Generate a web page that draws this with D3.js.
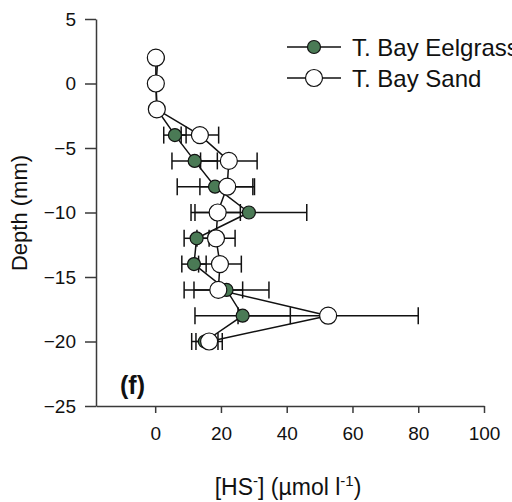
<!DOCTYPE html>
<html><head><meta charset="utf-8">
<script src="https://cdn.jsdelivr.net/npm/d3@7"></script>
<style>body{margin:0;background:#fff}svg{display:block;font-family:Arial,"Liberation Sans",sans-serif}</style>
</head><body>
<svg id="c" width="512" height="502"></svg>
<script>
const depths = [2, 0, -2, -4, -6, -8, -10, -12, -14, -16, -18, -20];
const eelgrass = [0.8, 0.3, 0.5, 6.0, 12.0, 18.2, 28.5, 12.6, 11.8, 21.7, 26.6, 15.1];
const eelgrassErr = [0, 0, 0, 3.4, 6.9, 11.5, 17.6, 3.8, 3.7, 12.9, 14.5, 4.0];
const sand = [0.2, 0.2, 0.5, 13.6, 22.4, 21.9, 19.0, 18.5, 19.7, 19.2, 52.6, 16.4];
const sandErr = [0, 0, 0, 5.7, 8.6, 8.3, 6.9, 5.8, 6.5, 7.4, 27.4, 4.0];
const xTicks = [0, 20, 40, 60, 80, 100];
const yTicks = [5, 0, -5, -10, -15, -20, -25];
const seriesNames = ["T. Bay Eelgrass", "T. Bay Sand"];

const svg = d3.select("#c");
const x = d3.scaleLinear().domain([-18, 100]).range([96, 484]);
const y = d3.scaleLinear().domain([-25, 5]).range([406, 19]);
const axisColor = "#3a3a3a";

// axes
const xa = svg.append("g").attr("transform", "translate(0,406)")
  .call(d3.axisBottom(x).tickValues(xTicks).tickSize(7).tickSizeOuter(0).tickPadding(14));
const ya = svg.append("g").attr("transform", "translate(96,0)")
  .call(d3.axisLeft(y).tickValues(yTicks).tickSize(11).tickSizeOuter(0).tickPadding(9));
[xa, ya].forEach(a => {
  a.select(".domain").attr("stroke", axisColor).attr("stroke-width", 1.5);
  a.selectAll(".tick line").attr("stroke", axisColor).attr("stroke-width", 1.5);
  a.selectAll(".tick text").attr("fill", "#111").style("font-size", "19px").style("font-family", "Arial, 'Liberation Sans', sans-serif");
});

const series = [
  {vals: eelgrass, err: eelgrassErr, fill: "#4a7a55", r: 6.5},
  {vals: sand, err: sandErr, fill: "#ffffff", r: 8.5}
];
const cap = 8.5;
const g = svg.append("g");
series.forEach(s => {
  const eg = g.append("g");
  depths.forEach((d, i) => {
    if (s.err[i] <= 0) return;
    const x0 = x(s.vals[i] - s.err[i]), x1 = x(s.vals[i] + s.err[i]), yy = y(d);
    eg.append("line").attr("x1", x0).attr("x2", x1).attr("y1", yy).attr("y2", yy);
    eg.append("line").attr("x1", x0).attr("x2", x0).attr("y1", yy - cap).attr("y2", yy + cap);
    eg.append("line").attr("x1", x1).attr("x2", x1).attr("y1", yy - cap).attr("y2", yy + cap);
  });
  eg.attr("stroke", "#111").attr("stroke-width", 1.5);
});
series.forEach(s => {
  g.append("path").datum(depths.map((d, i) => [s.vals[i], d]))
    .attr("fill", "none").attr("stroke", "#111").attr("stroke-width", 1.5)
    .attr("d", d3.line().x(p => x(p[0])).y(p => y(p[1])));
});
series.forEach(s => {
  g.selectAll(null).data(depths).enter().append("circle")
    .attr("cx", (d, i) => x(s.vals[i])).attr("cy", d => y(d)).attr("r", s.r)
    .attr("fill", s.fill).attr("stroke", "#111").attr("stroke-width", 1.2);
});

// legend
const lg = svg.append("g");
[47, 78].forEach((ly, k) => {
  lg.append("line").attr("x1", 287).attr("x2", 341).attr("y1", ly).attr("y2", ly)
    .attr("stroke", "#111").attr("stroke-width", 1.5);
  lg.append("circle").attr("cx", 314).attr("cy", ly).attr("r", series[k].r)
    .attr("fill", series[k].fill).attr("stroke", "#111").attr("stroke-width", 1.2);
  lg.append("text").attr("x", 352).attr("y", ly + 8.5).attr("fill", "#111")
    .style("font-size", "24px").text(seriesNames[k]);
});

// panel label
svg.append("text").attr("x", 120).attr("y", 394).attr("fill", "#111")
  .style("font-size", "25px").style("font-weight", "bold").text("(f)");

// axis titles
const xt = svg.append("text").attr("x", 288).attr("y", 495).attr("text-anchor", "middle")
  .attr("fill", "#111").style("font-size", "23px");
xt.append("tspan").text("[HS");
xt.append("tspan").attr("dy", -9).style("font-size", "15px").text("-");
xt.append("tspan").attr("dy", 9).text("] (µmol l");
xt.append("tspan").attr("dy", -9).style("font-size", "15px").text("-1");
xt.append("tspan").attr("dy", 9).text(")");

svg.append("text").attr("transform", "translate(27,213) rotate(-90)")
  .attr("text-anchor", "middle").attr("fill", "#111").style("font-size", "22px").text("Depth (mm)");
</script>
</body></html>
